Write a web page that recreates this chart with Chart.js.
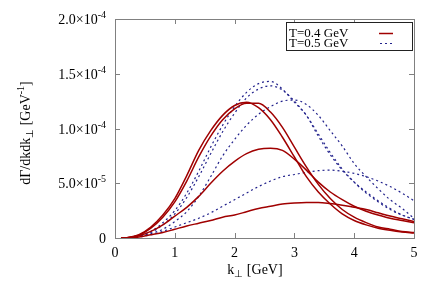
<!DOCTYPE html>
<html>
<head>
<meta charset="utf-8">
<script src="https://cdn.jsdelivr.net/npm/chart.js@4"></script>
<style>
  html, body { margin: 0; padding: 0; background: #fff; }
  canvas { display: block; }
</style>
</head>
<body>
<canvas id="chart" width="436" height="305"></canvas>
<script>
// k_perp grid (GeV)
const kPerp = [0.1, 0.2, 0.4, 0.6, 0.8, 1.0, 1.2, 1.4, 1.6, 1.8, 2.0, 2.2, 2.4,
  2.6, 2.8, 3.0, 3.2, 3.4, 3.6, 3.8, 4.0, 4.2, 4.4, 4.6, 4.8, 5.0]

// dGamma/dk dk_perp in units of 1e-4 GeV^-1
// T = 0.4 GeV (solid red)
const t04a = [0, 0.003, 0.03, 0.10, 0.21, 0.36, 0.57, 0.80, 0.98, 1.12, 1.21, 1.24, 1.19,
  1.08, 0.92, 0.74, 0.56, 0.42, 0.31, 0.22, 0.16, 0.12, 0.09, 0.07, 0.055, 0.045]
const t04b = [0, 0.002, 0.025, 0.09, 0.19, 0.33, 0.52, 0.74, 0.93, 1.08, 1.18, 1.23, 1.23,
  1.15, 1.01, 0.83, 0.65, 0.49, 0.36, 0.26, 0.19, 0.14, 0.10, 0.08, 0.06, 0.05]
const t04c = [0, 0.002, 0.02, 0.06, 0.12, 0.20, 0.28, 0.38, 0.50, 0.61, 0.70, 0.77, 0.81,
  0.82, 0.80, 0.72, 0.62, 0.51, 0.42, 0.35, 0.29, 0.245, 0.21, 0.18, 0.16, 0.14]
const t04d = [0, 0.001, 0.01, 0.03, 0.05, 0.08, 0.11, 0.135, 0.16, 0.19, 0.21, 0.24, 0.27,
  0.29, 0.31, 0.32, 0.325, 0.325, 0.315, 0.30, 0.28, 0.26, 0.23, 0.20, 0.175, 0.15]
// T = 0.5 GeV (dotted blue)
const t05a = [0, 0.002, 0.02, 0.06, 0.14, 0.25, 0.41, 0.61, 0.83, 1.03, 1.20, 1.33, 1.41,
  1.43, 1.36, 1.24, 1.12, 0.93, 0.76, 0.62, 0.51, 0.42, 0.34, 0.27, 0.21, 0.17]
const t05b = [0, 0.002, 0.018, 0.05, 0.12, 0.22, 0.37, 0.56, 0.77, 0.97, 1.14, 1.28, 1.36,
  1.39, 1.35, 1.25, 1.12, 0.95, 0.78, 0.63, 0.51, 0.41, 0.33, 0.26, 0.21, 0.17]
const t05c = [0, 0.001, 0.012, 0.04, 0.08, 0.15, 0.24, 0.38, 0.56, 0.75, 0.90, 1.03, 1.13,
  1.20, 1.25, 1.26, 1.22, 1.12, 0.98, 0.84, 0.68, 0.56, 0.45, 0.35, 0.27, 0.18]
const t05d = [0, 0.001, 0.01, 0.03, 0.06, 0.10, 0.14, 0.18, 0.23, 0.29, 0.35, 0.41, 0.47,
  0.52, 0.56, 0.58, 0.60, 0.615, 0.62, 0.61, 0.59, 0.56, 0.52, 0.47, 0.41, 0.34]

const xTicks = [0, 1, 2, 3, 4, 5]
const yTicks = [0, 5e-5, 1e-4, 1.5e-4, 2e-4]
const legendLabels = ['T=0.4 GeV', 'T=0.5 GeV']

const RED = '#a00000'
const BLUE = '#22228c'
const FONT = '14px "Liberation Serif", "Times New Roman", serif'
const SMALL = '10px "Liberation Serif", "Times New Roman", serif'
const KEYFONT = '13px "Liberation Serif", "Times New Roman", serif'

function toPoints (vals) {
  return vals.map((v, i) => ({ x: kPerp[i], y: v * 1e-4 }))
}

function redSet (vals) {
  return { data: toPoints(vals), borderColor: RED, borderWidth: 1.5, pointRadius: 0, fill: false, cubicInterpolationMode: 'monotone' }
}
function blueSet (vals) {
  return { data: toPoints(vals), borderColor: BLUE, borderWidth: 1.2, borderDash: [2, 3], pointRadius: 0, fill: false, cubicInterpolationMode: 'monotone' }
}

// draw text made of pieces, some raised or lowered
function richWidth (ctx, parts) {
  let w = 0
  for (const p of parts) {
    ctx.font = p.small ? SMALL : FONT
    w += ctx.measureText(p.t).width
  }
  return w
}
function drawRich (ctx, parts, x, y) {
  let cx = x
  for (const p of parts) {
    ctx.font = p.small ? SMALL : FONT
    ctx.fillText(p.t, cx, y + (p.dy || 0))
    cx += ctx.measureText(p.t).width
  }
}

function tickParts (v) {
  if (v === 0) return [{ t: '0' }]
  const e = Math.floor(Math.log10(v) + 1e-9)
  const m = v / Math.pow(10, e)
  return [{ t: m.toFixed(1) + '×10' }, { t: String(e), small: true, dy: -6 }]
}

const gnuplotDecor = {
  id: 'gnuplotDecor',
  afterDraw (chart) {
    const ctx = chart.ctx
    const a = chart.chartArea
    const xs = chart.scales.x
    const ys = chart.scales.y
    ctx.save()
    ctx.textBaseline = 'alphabetic'
    ctx.fillStyle = '#000'

    // frame with inward ticks
    ctx.strokeStyle = '#808080'
    ctx.lineWidth = 1
    ctx.strokeRect(a.left + 0.5, a.top + 0.5, a.right - a.left, a.bottom - a.top)
    ctx.beginPath()
    for (const t of xTicks) {
      const px = Math.round(xs.getPixelForValue(t)) + 0.5
      ctx.moveTo(px, a.bottom); ctx.lineTo(px, a.bottom - 5)
      ctx.moveTo(px, a.top); ctx.lineTo(px, a.top + 5)
    }
    for (const t of yTicks) {
      const py = Math.round(ys.getPixelForValue(t)) + 0.5
      ctx.moveTo(a.left, py); ctx.lineTo(a.left + 5, py)
      ctx.moveTo(a.right, py); ctx.lineTo(a.right - 5, py)
    }
    ctx.stroke()

    // tick labels
    ctx.font = FONT
    ctx.textAlign = 'center'
    for (const t of xTicks) {
      ctx.fillText(String(t), xs.getPixelForValue(t), a.bottom + 19)
    }
    ctx.textAlign = 'left'
    for (const t of yTicks) {
      const parts = tickParts(t)
      const w = richWidth(ctx, parts)
      drawRich(ctx, parts, 106 - w, ys.getPixelForValue(t) + 5)
    }

    // x title
    const xt = [{ t: 'k' }, { t: '⊥', small: true, dy: 3 }, { t: ' [GeV]' }]
    drawRich(ctx, xt, 255 - richWidth(ctx, xt) / 2, a.bottom + 36)

    // y title
    const yt = [{ t: 'dΓ/dkdk' }, { t: '⊥', small: true, dy: 3 }, { t: ' [GeV' }, { t: '-1', small: true, dy: -6 }, { t: ']' }]
    ctx.translate(30, 133)
    ctx.rotate(-Math.PI / 2)
    drawRich(ctx, yt, -richWidth(ctx, yt) / 2, 0)
    ctx.setTransform(1, 0, 0, 1, 0, 0)

    // key box
    ctx.fillStyle = '#fff'
    ctx.fillRect(286, 22, 126, 29)
    ctx.strokeStyle = '#222'
    ctx.strokeRect(286.5, 22.5, 126, 28)
    ctx.fillStyle = '#000'
    ctx.font = KEYFONT
    ctx.fillText(legendLabels[0], 289, 37)
    ctx.fillText(legendLabels[1], 289, 47)
    ctx.lineWidth = 1.5
    ctx.strokeStyle = RED
    ctx.beginPath(); ctx.moveTo(379, 33.5); ctx.lineTo(393, 33.5); ctx.stroke()
    ctx.lineWidth = 1.2
    ctx.strokeStyle = BLUE
    ctx.setLineDash([2, 3])
    ctx.beginPath(); ctx.moveTo(380, 43.5); ctx.lineTo(393, 43.5); ctx.stroke()
    ctx.restore()
  }
}

new Chart(document.getElementById('chart'), {
  type: 'line',
  data: {
    datasets: [
      redSet(t04a), redSet(t04b), redSet(t04c), redSet(t04d),
      blueSet(t05a), blueSet(t05b), blueSet(t05c), blueSet(t05d)
    ]
  },
  options: {
    responsive: false,
    animation: false,
    devicePixelRatio: 1,
    parsing: false,
    layout: { padding: { left: 115, top: 19, right: 22, bottom: 67 } },
    scales: {
      x: { type: 'linear', min: 0, max: 5, display: false },
      y: { type: 'linear', min: 0, max: 2e-4, display: false }
    },
    plugins: {
      legend: { display: false },
      tooltip: { enabled: false }
    }
  },
  plugins: [gnuplotDecor]
})
</script>
</body>
</html>
